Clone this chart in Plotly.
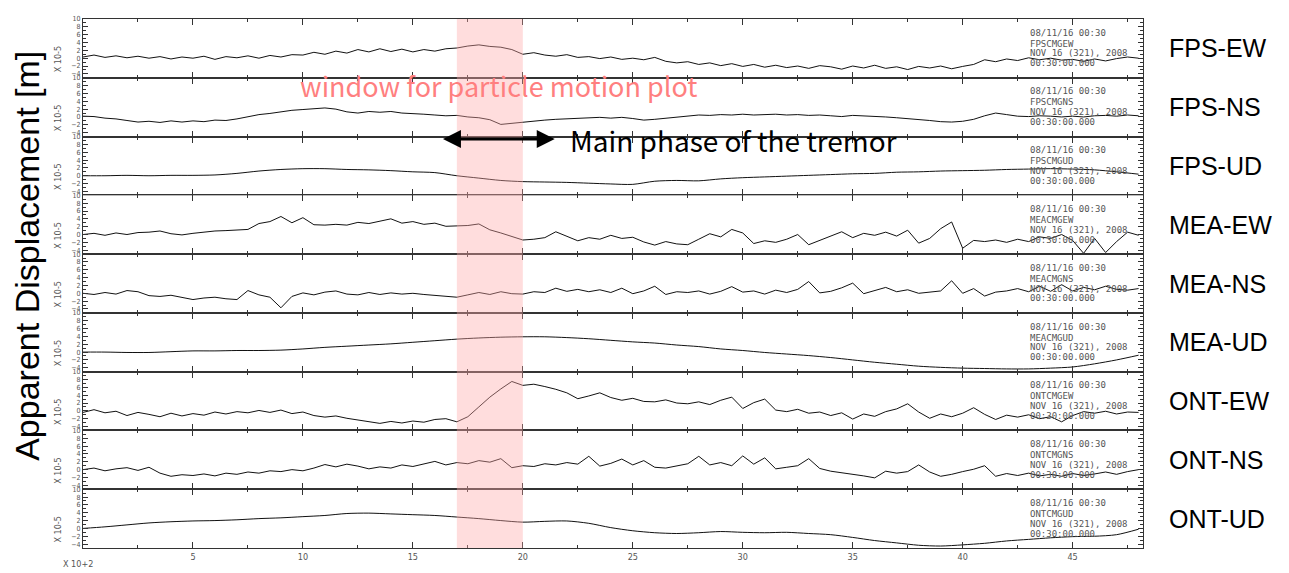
import plotly.graph_objects as go
from plotly.subplots import make_subplots

# ---------------- data ----------------
t_half = [i / 2 for i in range(97)]   # sample times, x 10^2 s, every 0.5
t_one = [float(i) for i in range(49)]  # sample times, every 1.0

channel_names = ["FPS-EW", "FPS-NS", "FPS-UD", "MEA-EW", "MEA-NS", "MEA-UD",
                 "ONT-EW", "ONT-NS", "ONT-UD"]
channel_codes = ["FPSCMGEW", "FPSCMGNS", "FPSCMGUD", "MEACMGEW", "MEACMGNS",
                 "MEACMGUD", "ONTCMGEW", "ONTCMGNS", "ONTCMGUD"]

fps_ew = [0.3, 0.8, 0.2, 0.6, 0.1, 0.5, 0.0, 0.4, -0.2, 0.3,
          0.0, 0.5, -0.3, 0.4, 0.1, 0.6, 0.0, 0.7, 0.3, 0.9,
          0.8, 1.5, 1.0, 1.8, 1.3, 2.2, 1.6, 2.4, 1.7, 2.3,
          1.6, 2.2, 1.8, 2.4, 2.6, 3.1, 3.4, 3.0, 2.8, 2.2,
          1.0, 1.4, 0.8, 0.5, 0.9, 0.2, 0.4, -0.1, 0.3, -0.3,
          0.0, -0.4, 0.2, -0.8, -1.2, -0.9, -1.6, -1.2, -1.9, -1.4,
          -2.1, -1.6, -2.3, -1.8, -2.4, -2.0, -2.6, -1.9, -2.2, -2.8,
          -2.0, -2.5, -1.8, -2.6, -2.2, -2.9, -2.1, -2.5, -2.0, -2.7,
          -2.1, -1.6, -0.4, -0.9, -0.2, -0.6, 0.1, -0.4, 0.0, -0.5,
          -0.3, -0.8, -0.2, -0.7, -0.1, 0.3, 0.0]

fps_ns = [0.2, 0.1, -0.3, -0.5, -0.9, -1.3, -1.1, -1.4, -1.0, -1.3,
          -1.0, -1.2, -0.8, -0.9, -0.5, 0.0, 0.6, 0.9, 1.3, 1.7,
          1.9, 2.1, 2.3, 2.0, 1.3, 1.0, 1.4, 1.2, 1.4, 1.0,
          0.9, 0.7, 0.5, 0.3, 0.4, 0.0, -0.2, -0.7, -1.9, -1.6,
          -1.3, -1.0, -0.8, -0.6, -0.5, -0.3, -0.2, -0.1, -0.3, -0.1,
          -0.4, -0.8, -0.6, -0.3, 0.0, 0.3, 0.5, 0.4, 0.6, 0.5,
          0.7, 0.5, 0.6, 0.7, 0.5, 0.6, 0.4, 0.5, 0.3, 0.1,
          0.4, 0.3, 0.2, 0.0, -0.2, -0.4, -0.6, -0.9, -1.2, -1.3,
          -1.1, -0.6, 0.3, 1.0, 0.6, 0.2, 0.1, 0.3, 0.2, 0.0,
          0.2, 0.0, 0.3, 0.4, 0.2, 0.5, 0.3]

fps_ud = [0.0, 0.0, 0.1, 0.0, 0.1, 0.1, 0.2, 0.6, 1.2, 1.6,
          1.8, 1.8, 1.6, 1.5, 1.3, 1.0, 0.8, 0.0, -0.6, -1.2,
          -1.5, -1.6, -1.7, -1.9, -2.1, -2.2, -1.4, -1.2, -1.3, -0.8,
          -0.5, -0.3, -0.1, 0.1, 0.3, 0.5, 0.6, 0.9, 1.0, 1.2,
          1.3, 1.4, 1.6, 1.7, 1.8, 1.7, 1.5, 1.0, 0.4]

mea_ew = [0.0, 0.3, -0.2, 0.4, 0.0, 0.5, 0.6, 0.9, 0.2, -0.1,
          0.3, 0.6, 0.9, 1.0, 1.2, 1.3, 2.8, 3.3, 4.6, 3.0,
          4.3, 2.5, 2.4, 2.6, 2.4, 3.1, 2.8, 3.4, 4.0, 2.9,
          3.3, 2.6, 2.9, 2.1, 2.2, 2.3, 2.7, 1.2, 0.4, -0.5,
          -1.4, -1.2, -0.8, 0.7, -0.5, -1.6, -0.8, -1.2, -0.2, -1.0,
          -0.7, -1.9, -2.7, -1.8, -2.4, -2.6, -1.2, 0.2, -0.6, 1.3,
          0.4, -2.3, -1.6, -2.0, -1.2, 0.0, -2.6, -1.5, -0.4, 0.7,
          -0.8, 0.3, -0.2, 0.6, -0.4, 1.1, -2.2, -1.0, 1.5, 3.2,
          -3.5, -1.5, -1.8, -1.4, -2.0, -1.2, -1.8, -0.6, -1.0, 0.0,
          -1.5, -4.8, -1.0, -4.6, -1.8, 0.6, -0.2]

mea_ns = [0.0, -0.3, 0.2, -0.2, 0.7, 0.4, -0.6, -0.8, -0.5, -1.1,
          -1.6, -1.2, -1.0, -1.4, -1.6, 0.7, -0.4, -1.0, -3.7, -0.8,
          0.1, -0.4, 0.3, 0.6, -0.2, -0.4, 0.2, -0.3, 0.1, -0.2,
          0.0, -0.3, -0.5, -0.8, -1.0, -0.4, 0.2, -0.3, 0.4, -0.1,
          -0.2, 0.4, 0.2, 1.3, 0.5, 1.0, 0.4, 0.9, 0.2, 1.3,
          -0.1, 0.6, 1.8, -0.3, 0.4, 0.2, 0.6, -0.2, 0.5, 1.7,
          0.3, 0.6, -0.2, 0.8, 0.2, 1.0, 3.0, 0.1, 0.5, 1.4,
          2.6, -0.1, 0.7, 1.5, 0.4, 0.9, 0.0, 0.3, 0.6, 3.2,
          0.0, 1.2, -0.7, 0.3, 0.6, 1.2, 0.4, 1.8, 0.5, 2.2,
          0.6, 1.5, 0.9, 1.8, 1.0, 0.8, 1.2]

mea_ud = [0.0, 0.0, -0.1, -0.1, 0.1, 0.3, 0.3, 0.4, 0.4, 0.5,
          0.8, 1.2, 1.5, 1.8, 2.1, 2.5, 2.9, 3.3, 3.6, 3.8,
          3.9, 3.9, 3.7, 3.4, 3.0, 2.6, 2.3, 1.8, 1.4, 0.8,
          0.4, -0.1, -0.5, -0.9, -1.4, -2.0, -2.6, -3.1, -3.6, -3.9,
          -4.1, -4.2, -4.3, -4.3, -4.1, -3.8, -3.0, -2.0, -0.8]

ont_ew = [-0.4, 0.3, -0.5, -0.1, -1.2, -0.4, -0.9, -1.5, -0.6, -1.3,
          -0.7, -1.1, -0.3, -0.8, -0.2, -0.5, 0.1, -0.4, 0.2, -0.7,
          -0.3, -1.2, -1.6, -1.3, -1.9, -2.3, -2.8, -3.2, -2.7, -3.1,
          -2.6, -2.9, -2.2, -2.0, -2.8, -1.5, 1.0, 3.5, 5.6, 7.5,
          6.5, 6.8, 6.2, 5.5, 4.6, 3.1, 3.8, 4.6, 3.4, 2.7,
          3.2, 2.4, 2.3, 2.8, 2.0, 1.8, 2.3, 1.6, 2.7, 3.5,
          0.6, 2.1, 3.0, 0.2, -0.2, 0.4, -0.6, -0.3, -1.2, -0.5,
          -2.1, -0.8, -1.4, -0.2, 0.5, 1.8, -0.3, -1.9, -0.8, -1.5,
          -0.6, 0.8, -0.9, -2.2, -1.1, -1.6, -1.0, -2.0, -1.5, -2.8,
          -1.2, -0.2, -0.6, -0.1, -0.8, -0.3, -0.4]

ont_ns = [0.0, 0.4, -0.3, 0.2, 0.5, -0.2, 0.6, -0.9, -1.7, -1.3,
          -1.5, -1.1, -1.6, -0.9, -1.2, -0.6, -0.9, -0.3, -0.5, 0.0,
          -0.3, 0.4, 1.3, 0.7, 1.4, 0.9, 0.2, 0.7, 0.4, 1.2,
          0.8, 1.4, 2.1, 1.2, 1.8, 1.5, 2.3, 1.9, 2.8, 0.5,
          1.0, 0.8, 1.5, 1.2, 1.8, 1.4, 3.4, 0.9, 1.6, 2.7,
          1.2, 2.3, 0.6, 0.4, 1.0, 1.5, 3.4, 1.2, 1.8, 1.0,
          3.5, 1.4, 3.0, 0.2, 0.6, 1.0, 2.8, 0.3, -0.4, -0.8,
          -1.1, -1.6, -2.1, -0.4, -0.9, -0.5, 1.2, -0.6, -1.7, -1.2,
          -0.5, 0.1, 1.0, -1.7, -1.0, -1.5, -0.9, -1.6, -1.2, -1.7,
          -1.0, -1.5, -1.1, -0.6, -1.2, -0.5, 0.0]

ont_ud = [0.0, 0.4, 0.9, 1.4, 1.7, 1.9, 2.0, 2.2, 2.5, 2.7,
          3.0, 3.3, 3.8, 3.9, 3.7, 3.5, 3.3, 2.9, 2.5, 2.0,
          1.6, 1.8, 1.9, 1.3, 0.2, -0.6, -1.1, -1.3, -1.1, -0.8,
          -1.0, -1.1, -1.0, -1.3, -1.6, -2.3, -3.1, -3.7, -4.3, -4.5,
          -4.2, -3.8, -3.2, -2.8, -2.4, -2.1, -2.0, -1.6, -0.2]

traces = [(t_half, fps_ew), (t_half, fps_ns), (t_one, fps_ud),
          (t_half, mea_ew), (t_half, mea_ns), (t_one, mea_ud),
          (t_half, ont_ew), (t_half, ont_ns), (t_one, ont_ud)]

x_ticks = [5, 10, 15, 20, 25, 30, 35, 40, 45]
y_ticks = [10, 8, 6, 4, 2, 0, -2, -4]
window_start, window_end = 17.0, 20.0
arrow_start, arrow_end = 16.3, 21.45
header_lines = ["08/11/16 00:30", None, "NOV 16 (321), 2008", "00:30:00.000"]

# ---------------- figure ----------------
n = len(traces)
fig = make_subplots(rows=n, cols=1, shared_xaxes=True, vertical_spacing=0)

for i, (tx, ty) in enumerate(traces):
    smooth = (tx is t_one)
    fig.add_trace(go.Scatter(x=tx, y=ty, mode="lines",
                             line=dict(color="#111111", width=1,
                                       shape="spline" if smooth else "linear",
                                       smoothing=0.8 if smooth else None),
                             showlegend=False, hoverinfo="skip"),
                  row=i + 1, col=1)
    fig.update_yaxes(range=[-5, 10], tickvals=y_ticks,
                     ticks="inside", ticklen=5, tickcolor="#333",
                     minor=dict(dtick=1, tick0=0, ticks="inside", ticklen=3, tickcolor="#333"),
                     showline=True, linecolor="#333", linewidth=1, mirror="ticks",
                     showgrid=False, zeroline=False,
                     tickfont=dict(family="DejaVu Sans Condensed", size=7, color="#555"),
                     row=i + 1, col=1)
    fig.update_xaxes(range=[0, 48.2], tickvals=x_ticks,
                     ticks="inside", ticklen=6, tickcolor="#333",
                     minor=dict(dtick=2.5, tick0=0, ticks="inside", ticklen=3, tickcolor="#333"),
                     showline=True, linecolor="#333", linewidth=1, mirror="ticks",
                     showgrid=False, zeroline=False,
                     showticklabels=(i == n - 1),
                     tickfont=dict(family="DejaVu Sans Condensed", size=9, color="#555"),
                     row=i + 1, col=1)

    yref = "y" if i == 0 else f"y{i + 1}"
    xref = "x" if i == 0 else f"x{i + 1}"
    lines = list(header_lines)
    lines[1] = channel_codes[i]
    for txt, yv in zip(lines, [6.5, 3.7, 1.2, -1.3]):
        fig.add_annotation(x=42.95, y=yv, xref=xref, yref=yref, text=txt,
                           showarrow=False, xanchor="left", yanchor="middle",
                           font=dict(family="DejaVu Sans Mono", size=9, color="#555"))
    fig.add_annotation(x=0, y=-0.3, xref="paper", yref=yref, text="X 10-5",
                       showarrow=False, xshift=-25, textangle=-90,
                       xanchor="center", yanchor="middle",
                       font=dict(family="DejaVu Sans Condensed", size=9, color="#555"))
    fig.add_annotation(x=1, y=2.5, xref="paper", yref=yref, text=channel_names[i],
                       showarrow=False, xanchor="left", yanchor="middle", xshift=24,
                       font=dict(family="Liberation Sans", size=25, color="#000"))

# window for particle motion plot
fig.add_shape(type="rect", xref="x", yref="paper", x0=window_start, x1=window_end,
              y0=0, y1=1, fillcolor="rgba(255,170,170,0.40)", line_width=0, layer="above")

fig.add_annotation(x=18.9, y=0.874, xref="x", yref="paper",
                   text="window for particle motion plot", showarrow=False,
                   xanchor="center", yanchor="middle",
                   font=dict(family="Noto Sans CJK JP", size=27, color="#FF7F7F"))

fig.add_annotation(x=arrow_end, y=0.773, xref="x", yref="paper",
                   ax=arrow_start, ay=0, axref="x", ayref="pixel",
                   showarrow=True, arrowhead=2, startarrowhead=2, arrowside="end+start",
                   arrowwidth=3, arrowsize=1.2, startarrowsize=1.2, arrowcolor="#000", text="")

fig.add_annotation(x=22.05, y=0.771, xref="x", yref="paper",
                   text="Main phase of the tremor", showarrow=False,
                   xanchor="left", yanchor="middle",
                   font=dict(family="Noto Sans CJK JP", size=28, color="#000"))

fig.add_annotation(x=-0.053, y=0.552, xref="paper", yref="paper",
                   text="Apparent Displacement [m]", showarrow=False, textangle=-90,
                   xanchor="center", yanchor="middle",
                   font=dict(family="Liberation Sans", size=34, color="#000"))

fig.add_annotation(x=0, y=0, xref="paper", yref="paper", text="X 10+2",
                   showarrow=False, xanchor="left", yanchor="top", xshift=-22, yshift=-9,
                   font=dict(family="DejaVu Sans Condensed", size=9, color="#555"))

# the page adds an 8 px body margin, so the figure is 16 px smaller than the window
fig.update_layout(width=1281, height=565, autosize=False,
                  margin=dict(l=75, r=146, t=7, b=25),
                  paper_bgcolor="white", plot_bgcolor="white")

fig.write_html("out.html")
